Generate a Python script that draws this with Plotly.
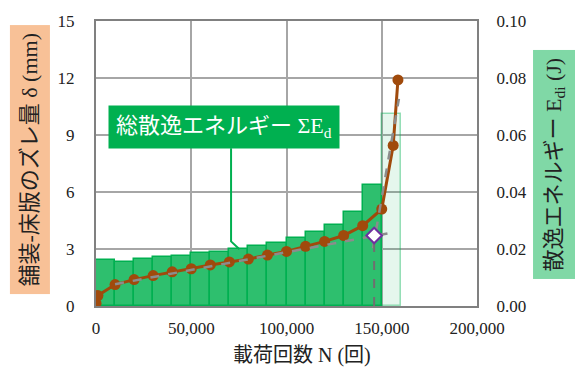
import plotly.graph_objects as go

# ---- data ----
cycles = [0, 1000, 10000, 20000, 30000, 40000, 50000, 60000, 70000, 80000,
          90000, 100000, 110000, 120000, 130000, 140000, 150000, 156000, 158500]
slip_mm = [0.15, 0.55, 1.13, 1.39, 1.60, 1.80, 1.96, 2.16, 2.32, 2.47,
           2.68, 2.87, 3.14, 3.40, 3.71, 4.23, 5.10, 8.45, 11.9]

bin_centers = [5000, 15000, 25000, 35000, 45000, 55000, 65000, 75000,
               85000, 95000, 105000, 115000, 125000, 135000, 145000]
bin_energy = [0.0162, 0.0155, 0.0165, 0.0172, 0.0175, 0.0186, 0.0189, 0.0199,
              0.0210, 0.0220, 0.0237, 0.0258, 0.0285, 0.0330, 0.0423]
last_center = [155000]
last_energy = [0.0674]
bin_width = 10000

trend1_N = [10000, 153000]
trend1_d = [1.15, 3.82]
trend2_N = [145400, 159000]
trend2_d = [3.04, 10.9]
knee_N = [146000]
knee_d = [3.71]

callout_N = [70900, 70900, 75300]
callout_d = [8.3, 3.4, 2.99]

FONT = "Liberation Serif, Noto Sans CJK JP"
BROWN = "#a04a0c"
GREEN = "#00b050"
GRAY = "#8c8c8c"

fig = go.Figure()

fig.add_trace(go.Bar(x=bin_centers, y=bin_energy, width=bin_width,
                     marker=dict(color="#2ebf6e", line=dict(color=GREEN, width=1.5)),
                     yaxis="y", showlegend=False))
fig.add_trace(go.Bar(x=last_center, y=last_energy, width=bin_width,
                     marker=dict(color="rgba(0,176,80,0.10)",
                                 line=dict(color="rgba(0,176,80,0.40)", width=1.5)),
                     yaxis="y", showlegend=False))

# callout line
fig.add_trace(go.Scatter(x=callout_N, y=callout_d, mode="lines",
                         line=dict(color=GREEN, width=2), yaxis="y2",
                         showlegend=False, hoverinfo="skip"))

# main series
fig.add_trace(go.Scatter(x=cycles, y=slip_mm, mode="lines+markers",
                         line=dict(color=BROWN, width=3),
                         marker=dict(color=BROWN, size=11),
                         yaxis="y2", showlegend=False))

# trend lines (drawn over the series)
fig.add_trace(go.Scatter(x=trend1_N, y=trend1_d, mode="lines",
                         line=dict(color=GRAY, width=2.5, dash="dash"),
                         yaxis="y2", showlegend=False))
fig.add_trace(go.Scatter(x=trend2_N, y=trend2_d, mode="lines",
                         line=dict(color=GRAY, width=2.5, dash="dash"),
                         yaxis="y2", showlegend=False))
fig.add_trace(go.Scatter(x=[knee_N[0], knee_N[0]], y=[0, knee_d[0]], mode="lines",
                         line=dict(color="#6f6f6f", width=2, dash="dash"),
                         yaxis="y2", showlegend=False))

fig.add_trace(go.Scatter(x=knee_N, y=knee_d, mode="markers",
                         marker=dict(symbol="diamond", size=12, color="white",
                                     line=dict(color="#7030a0", width=2)),
                         yaxis="y2", showlegend=False))

axis_common = dict(showline=True, linecolor="#808080", linewidth=2,
                   ticks="", zeroline=False,
                   tickfont=dict(family=FONT, size=17, color="#222"))

fig.update_layout(
    width=575, height=374,
    margin=dict(l=96, r=98, t=15, b=68),
    plot_bgcolor="white", paper_bgcolor="white",
    bargap=0,
    xaxis=dict(range=[0, 200000], dtick=50000, tickformat=",",
               showgrid=True, gridcolor="#a6a6a6", gridwidth=1.5,
               mirror=True, ticklabelstandoff=6, **axis_common),
    yaxis=dict(range=[0, 0.1], dtick=0.02, tickformat=".2f", side="right",
               showgrid=True, gridcolor="#a6a6a6", gridwidth=1.5,
               ticklabelstandoff=14, **axis_common),
    yaxis2=dict(range=[0, 15], dtick=3, overlaying="y", side="left",
                showgrid=False, ticklabelstandoff=16, **axis_common),
    annotations=[
        dict(text="載荷回数 N (回)", xref="paper", yref="paper",
             x=(302 - 96) / 381, y=-(357 - 306) / 291, showarrow=False,
             font=dict(family=FONT, size=20, color="#222"),
             xanchor="center", yanchor="middle"),
        dict(text="舗装-床版のズレ量 δ (mm)", xref="paper", yref="paper",
             x=(29.5 - 96) / 381, y=(306 - 157) / 291, textangle=-90,
             showarrow=False, bgcolor="#f8c197", borderpad=7,
             font=dict(family=FONT, size=22, color="#222"),
             xanchor="center", yanchor="middle"),
        dict(text="散逸エネルギー E<sub>di</sub> (J)", xref="paper", yref="paper",
             x=(554.5 - 96) / 381, y=(306 - 162) / 291, textangle=-90,
             showarrow=False, bgcolor="#80d8a6", borderpad=7,
             font=dict(family=FONT, size=22, color="#222"),
             xanchor="center", yanchor="middle"),
        dict(text="総散逸エネルギー ΣE<sub>d</sub>", xref="paper", yref="paper",
             x=(223.5 - 96) / 381, y=(306 - 123.5) / 291,
             showarrow=False, bgcolor=GREEN, borderpad=7,
             font=dict(family=FONT, size=22, color="white"),
             xanchor="center", yanchor="middle"),
    ],
)

fig.write_html("out.html")
